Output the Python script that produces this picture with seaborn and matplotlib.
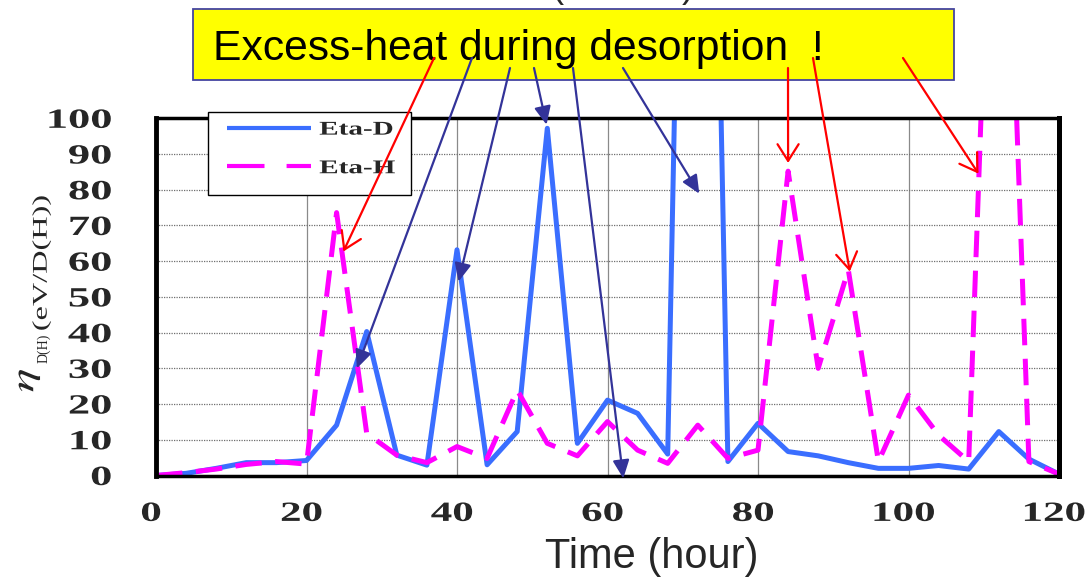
import matplotlib
matplotlib.use("Agg")
import matplotlib.pyplot as plt
import pandas as pd
import seaborn as sns
from matplotlib import patheffects
from matplotlib.transforms import Affine2D
from matplotlib.lines import Line2D
from matplotlib.patches import Rectangle
from matplotlib.font_manager import FontProperties

# ---- data -------------------------------------------------------------
time_h = list(range(0, 121, 4))
eta_d = [0.0, 0.6, 2.0, 3.6, 3.6, 4.2, 14.1, 40.3, 5.7, 2.9, 63.2, 3.0,
         12.3, 97.2, 9.0, 21.1, 17.4, 6.0, 430.0, 3.9, 14.6, 6.7, 5.5,
         3.6, 2.0, 2.0, 2.8, 1.8, 12.3, 4.6, 0.4]
eta_h = [0.0, 0.8, 1.8, 3.1, 3.9, 3.2, 73.6, 11.8, 5.7, 3.6, 8.1, 4.8,
         23.9, 9.0, 5.5, 15.1, 7.1, 3.4, 14.1, 4.8, 7.1, 85.2, 30.0,
         57.6, 3.9, 22.5, 11.3, 3.9, 240.0, 3.9, 0.4]
series_names = ["Eta-D", "Eta-H"]
x_ticks = [0, 20, 40, 60, 80, 100, 120]
y_ticks = [0, 10, 20, 30, 40, 50, 60, 70, 80, 90, 100]

# arrow targets (time, eta) and their tails (figure pixels from top-left)
red_targets = [(24.9, 62.7), (84.0, 87.5), (92.2, 57.1), (109.3, 84.5)]
red_tails = [(434, 58), (788, 68), (813, 58), (903, 58)]
navy_targets = [(26.7, 30.0), (40.2, 54.3), (51.9, 98.2), (62.1, -0.8), (72.2, 78.9)]
navy_tails = [(472, 58), (510, 68), (534, 68), (573, 68), (623, 68)]

W, H, DPI = 1088, 581, 100
BLUE = "#3A6EFF"
MAGENTA = "#FF00FF"
NAVY = "#333399"
RED = "#FF0000"


class Stretch(patheffects.AbstractPathEffect):
    """Widen glyphs along the text direction about an anchor, optional pixel shift."""

    def __init__(self, sx, anchor="center", dx=0.0):
        super().__init__()
        self.sx = sx
        self.anchor = anchor
        self.dx = dx

    def draw_path(self, renderer, gc, tpath, affine, rgbFace=None):
        ext = tpath.get_extents()
        if self.anchor == "left":
            cx = ext.x0
        elif self.anchor == "right":
            cx = ext.x1
        else:
            cx = 0.5 * (ext.x0 + ext.x1)
        a = (Affine2D().translate(-cx, 0).scale(self.sx, 1).translate(cx, 0)
             + affine + Affine2D().translate(self.dx, 0))
        renderer.draw_path(gc, tpath, a, rgbFace)


def fx(px):
    return px / W


def fy(py):
    return 1 - py / H


sns.set_style("white")
plt.rcParams["font.family"] = ["Liberation Sans", "DejaVu Sans"]
plt.rcParams["mathtext.fontset"] = "stix"

fig = plt.figure(figsize=(W / DPI, H / DPI), dpi=DPI)
ax = fig.add_axes([fx(156), fy(475.5), (1059 - 156) / W, (475.5 - 118.3) / H])

df = pd.DataFrame({
    "time": time_h * 2,
    "eta": eta_d + eta_h,
    "series": [series_names[0]] * len(time_h) + [series_names[1]] * len(time_h),
})
sns.lineplot(data=df, x="time", y="eta", hue="series", style="series",
             hue_order=series_names, style_order=series_names,
             palette={series_names[0]: BLUE, series_names[1]: MAGENTA},
             dashes={series_names[0]: "", series_names[1]: (5.3, 2.7)},
             linewidth=3.6, legend=False, errorbar=None, ax=ax)
for ln in ax.lines:
    ln.set_dash_capstyle("butt")
    ln.set_solid_joinstyle("round")
    ln.set_solid_capstyle("round")

ax.set_xlim(0, 120)
ax.set_ylim(0, 100)
ax.set_xticks(x_ticks)
ax.set_xticks(range(0, 121, 4), minor=True)
ax.set_yticks(y_ticks)
ax.set_yticks(range(0, 101, 2), minor=True)
ax.set_xlabel("")
ax.set_ylabel("")

ax.yaxis.grid(True, which="major", linestyle=(0, (1, 1)), color="#6f6f6f", linewidth=0.9)
ax.xaxis.grid(True, which="major", linestyle="-", color="#8a8a8a", linewidth=0.9)
ax.set_axisbelow(True)

ax.tick_params(which="both", direction="in", top=False, right=False,
               color="black", width=1.2, length=5.5)
ax.tick_params(axis="x", pad=19)
ax.tick_params(axis="y", pad=32)

for side, lw in (("left", 3.5), ("right", 3.6), ("top", 2.5), ("bottom", 2.5)):
    ax.spines[side].set_linewidth(lw)
    ax.spines[side].set_color("black")
    ax.spines[side].set_visible(True)

tick_font = dict(fontfamily="Liberation Serif", fontweight="bold", fontsize=20)
plt.setp(ax.get_xticklabels(), **tick_font,
         path_effects=[Stretch(1.55, "center", dx=-5)])
plt.setp(ax.get_yticklabels(), **tick_font, path_effects=[Stretch(1.6, "right")])

# legend
handles = [
    Line2D([], [], color=BLUE, lw=3.0, solid_capstyle="butt"),
    Line2D([], [], color=MAGENTA, lw=3.0, dashes=(9, 5.3), dash_capstyle="butt"),
]
ax.add_patch(Rectangle((fx(208), fy(195)), (411 - 208) / W, (195 - 112) / H,
                       transform=fig.transFigure, facecolor="white",
                       edgecolor="black", linewidth=1.0, clip_on=False, zorder=4.9))
leg = ax.legend(handles, series_names, loc="upper left",
                bbox_to_anchor=(fx(227), fy(121)), bbox_transform=fig.transFigure,
                frameon=False, borderpad=0, borderaxespad=0,
                handlelength=4.3, handletextpad=0.45, labelspacing=1.08,
                prop=FontProperties(family="Liberation Serif", weight="bold", size=14))
for t in leg.get_texts():
    t.set_path_effects([Stretch(1.5, "left")])

# headline box
ax.add_patch(Rectangle((fx(193), fy(80)), (954 - 193) / W, (80 - 9) / H,
                       transform=fig.transFigure, facecolor="#FFFF00",
                       edgecolor="#4444A0", linewidth=1.3, clip_on=False, zorder=8))
ax.text(fx(213), fy(60), "Excess-heat during desorption  !", transform=fig.transFigure,
        ha="left", va="baseline", fontsize=30.7, family="Liberation Sans",
        color="black", zorder=8.5, clip_on=False)

# arrows from the headline to the peaks
for (tx, ty), (px, py) in zip(red_targets, red_tails):
    ax.annotate("", xy=(tx, ty), xycoords="data",
                xytext=(px, H - py), textcoords="figure pixels",
                arrowprops=dict(arrowstyle="->,head_length=0.6,head_width=0.38",
                                color=RED, lw=1.6, mutation_scale=20,
                                shrinkA=0, shrinkB=0),
                annotation_clip=False, zorder=10)
for (tx, ty), (px, py) in zip(navy_targets, navy_tails):
    ax.annotate("", xy=(tx, ty), xycoords="data",
                xytext=(px, H - py), textcoords="figure pixels",
                arrowprops=dict(arrowstyle="-|>,head_length=0.55,head_width=0.25",
                                color=NAVY, lw=1.6, mutation_scale=20,
                                shrinkA=0, shrinkB=0),
                annotation_clip=False, zorder=10)

# axis titles
fig.text(fx(652), fy(557), "Time (hour)", ha="center", va="center",
         fontsize=30, family="Liberation Sans")
fig.text(fx(42), fy(263), "(eV/D(H))", ha="center", va="center", rotation=90,
         fontsize=15, family="Liberation Serif",
         path_effects=[Stretch(1.55, "center")])
fig.text(fx(44), fy(348), "D(H)", ha="center", va="center", rotation=90,
         fontsize=10, family="Liberation Serif")
fig.text(fx(27), fy(380), r"$\eta$", ha="center", va="center", rotation=90,
         fontsize=24, path_effects=[Stretch(1.5, "center")])

# heading parentheses running off the top edge
fig.text(fx(558), fy(-3), "(", ha="center", va="baseline", fontsize=26)
fig.text(fx(688), fy(-3), ")", ha="center", va="baseline", fontsize=26)

fig.savefig("out.png", dpi=DPI)
